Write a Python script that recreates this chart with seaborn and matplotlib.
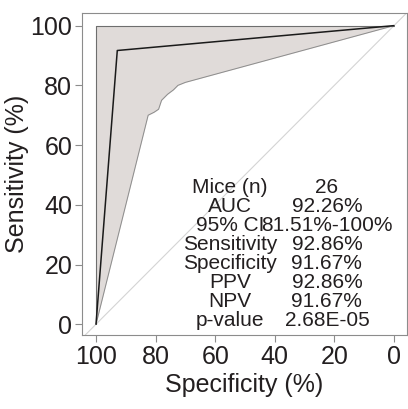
import numpy as np
import pandas as pd
import matplotlib
matplotlib.use("Agg")
import matplotlib.pyplot as plt
import seaborn as sns

# ROC 曲线
roc_spec = [100, 92.86, 0]
roc_sens = [0, 91.67, 100]

# 95% 置信带
upper_spec = [100, 100, 0]
upper_sens = [0, 100, 100]
lower_spec = [100, 82.5, 80.5, 79, 78, 76, 74, 72.5, 70, 0]
lower_sens = [0, 70, 71, 72, 75, 77, 78.5, 80, 81, 100]

# 统计表
stat_names = ["Mice (n)", "AUC", "95% CI", "Sensitivity", "Specificity", "PPV", "NPV", "p-value"]
stat_values = ["26", "92.26%", "81.51%-100%", "92.86%", "91.67%", "92.86%", "91.67%", "2.68E-05"]

sns.set_theme(style="white")
plt.rcParams["font.family"] = ["Liberation Sans", "DejaVu Sans"]
text_col = "#231f20"
edge_col = "#8c8c8c"

fig = plt.figure(figsize=(4.08, 4.09), dpi=100)
ax = fig.add_axes([0.201, 0.181, 0.796, 0.787])

# 置信带（上下界插值到同一网格上）
grid = np.linspace(0, 100, 1001)
up = np.interp(grid, upper_spec[1:][::-1], upper_sens[1:][::-1])
up[-1] = 100
lo = np.interp(grid, lower_spec[::-1], lower_sens[::-1])
ax.fill_between(grid, lo, up, color="#e0dbd9", lw=0, zorder=1)
ax.plot(upper_spec, upper_sens, color="#6e6e6e", lw=0.8, zorder=2)
ax.plot(lower_spec, lower_sens, color=edge_col, lw=0.7, zorder=2)

# 对角参考线
ax.axline((100, 0), (0, 100), color="#d4d4d4", lw=0.8, zorder=1)

roc = pd.DataFrame({"spec": roc_spec, "sens": roc_sens})
sns.lineplot(data=roc, x="spec", y="sens", sort=False, color="#1a1a1a", lw=1.1, ax=ax, zorder=3)

ax.set_xlim(104.7, -4.3)
ax.set_ylim(-3.6, 104.2)
ax.set_xticks([100, 80, 60, 40, 20, 0])
ax.set_yticks([0, 20, 40, 60, 80, 100])
ax.tick_params(axis="both", labelsize=18, colors=edge_col, labelcolor=text_col,
               length=5, width=0.8, pad=2, left=True, bottom=True, direction="out")
for s in ax.spines.values():
    s.set_color(edge_col)
    s.set_linewidth(0.8)
ax.set_xlabel("Specificity (%)", fontsize=18, color=text_col, labelpad=3)
ax.set_ylabel("Sensitivity (%)", fontsize=18, color=text_col, labelpad=1)

# 表格文字
y0 = 45.7
dy = 6.37
for i, (n, v) in enumerate(zip(stat_names, stat_values)):
    y = y0 - i * dy
    ax.text(55.0, y, n, ha="center", va="center", fontsize=15, color=text_col, zorder=4)
    ax.text(22.5, y, v, ha="center", va="center", fontsize=15, color=text_col, zorder=4)

fig.savefig("out.png", dpi=100)
